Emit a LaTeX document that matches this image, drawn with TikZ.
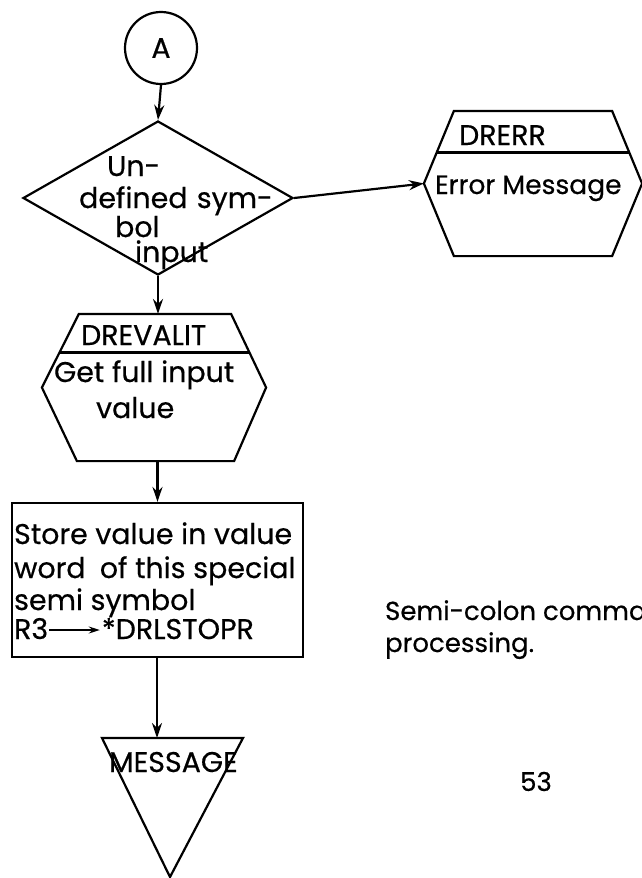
\documentclass[tikz,border=0pt]{standalone}
\usepackage{fontspec}
\setmainfont{Poppins}[FakeBold=0.5]
\usetikzlibrary{shapes.geometric,arrows.meta,calc}
\begin{document}
\begin{tikzpicture}[x=1pt,y=-1pt,line width=2.2pt,
  flow/.style={-{Stealth[length=15pt,width=10pt]}},
  txt/.style={inner sep=0pt,anchor=base west,font=\fontsize{28.5}{33}\selectfont},
  captxt/.style={txt,font=\fontsize{26}{31}\selectfont},
  frame/.style={rectangle,inner sep=0pt},
  hexline/.style={line join=miter}]
\useasboundingbox (0,0) rectangle (642,878);
\clip (0,0) rectangle (642,878);

% connector circle
\node[draw,circle,minimum size=72pt,inner sep=0pt,font=\fontsize{28.5}{33}\selectfont] (conA) at (161,48) {A};

% decision
\node[draw,diamond,minimum width=270pt,minimum height=154pt,inner sep=0pt] (undef) at (158,198) {};
\node[txt] (u1) at (106,176) {Un-};
\node[txt] (u2) at (78,208) {defined};
\node[txt] (u2b) at ([xshift=7pt]u2.base east) {sym-};
\node[txt] (u3) at (114,237) {bol};
\node[txt] (u4) at (134,262) {input};

% DRERR subroutine
\node[frame,minimum width=216pt,minimum height=143pt] (drerr) at (533,183.5) {};
\coordinate (etl) at ([xshift=30pt]drerr.north west);
\coordinate (etr) at ([xshift=-30pt]drerr.north east);
\draw[hexline] (etl) -- (etr) -- (drerr.east) -- ([xshift=-30pt]drerr.south east)
  -- ([xshift=30pt]drerr.south west) -- (drerr.west) -- cycle;
\draw ($(etl)!0.573!(drerr.west)$) -- ($(etr)!0.573!(drerr.east)$);
\node[txt] (e1) at (458,145) {DRERR};
\node[txt,font=\fontsize{26.5}{31}\selectfont] (e2) at (434,194) {Error Message};

% DREVALIT subroutine
\node[frame,minimum width=222pt,minimum height=145pt] (dreval) at (154,387.5) {};
\coordinate (vtl) at ([xshift=37pt]dreval.north west);
\coordinate (vtr) at ([xshift=-35pt]dreval.north east);
\draw[hexline] (vtl) -- (vtr) -- (dreval.east) -- ([xshift=-32pt]dreval.south east)
  -- ([xshift=35pt]dreval.south west) -- (dreval.west) -- cycle;
\draw ($(vtl)!0.524!(dreval.west)$) -- ($(vtr)!0.524!(dreval.east)$);
\node[txt] (v1) at (80,345) {DREVALIT};
\node[txt] (v2) at (53,382) {Get full input};
\node[txt] (v3) at (95,418) {value};

% process box
\node[draw,frame,minimum width=291pt,minimum height=154pt] (store) at (157.5,580) {};
\node[txt] (s1) at (13,544) {Store value in value};
\node[txt] (s2) at (13,578) {word\enspace of this special};
\node[txt] (s3) at (13,610) {semi symbol};
\node[txt] (s4) at (13,639) {R3};
\node[txt,anchor=base east] (s5) at (255,639) {*DRLSTOPR};
\draw[-{Stealth[length=11pt,width=7pt]},line width=1.6pt] ([yshift=9pt]s4.base east) -- ([yshift=9pt,xshift=-1pt]s5.base west);

% exit triangle
\coordinate (mtop) at (157,738);
\draw[hexline] (102,738) -- (243,738) -- (170,877) -- cycle;
\node[txt] (m1) at (108,772) {MESSAGE};

% flow lines
\draw[flow] (conA.south) -- (undef.north);
\draw[flow] (undef.east) -- (drerr.west);
\draw[flow] (undef.south) -- (undef.south |- dreval.north);
\draw[flow] (dreval.south -| store.north) -- (store.north);
\draw[flow] (store.south -| mtop) -- (mtop);

% caption and page number
\node[captxt] (cap1) at (384,620) {Semi-colon command};
\node[captxt] (cap2) at (384,652) {processing.};
\node[inner sep=0pt,anchor=base,font=\fontsize{26}{31}\selectfont] (pg) at (536,791) {53};
\end{tikzpicture}
\end{document}
